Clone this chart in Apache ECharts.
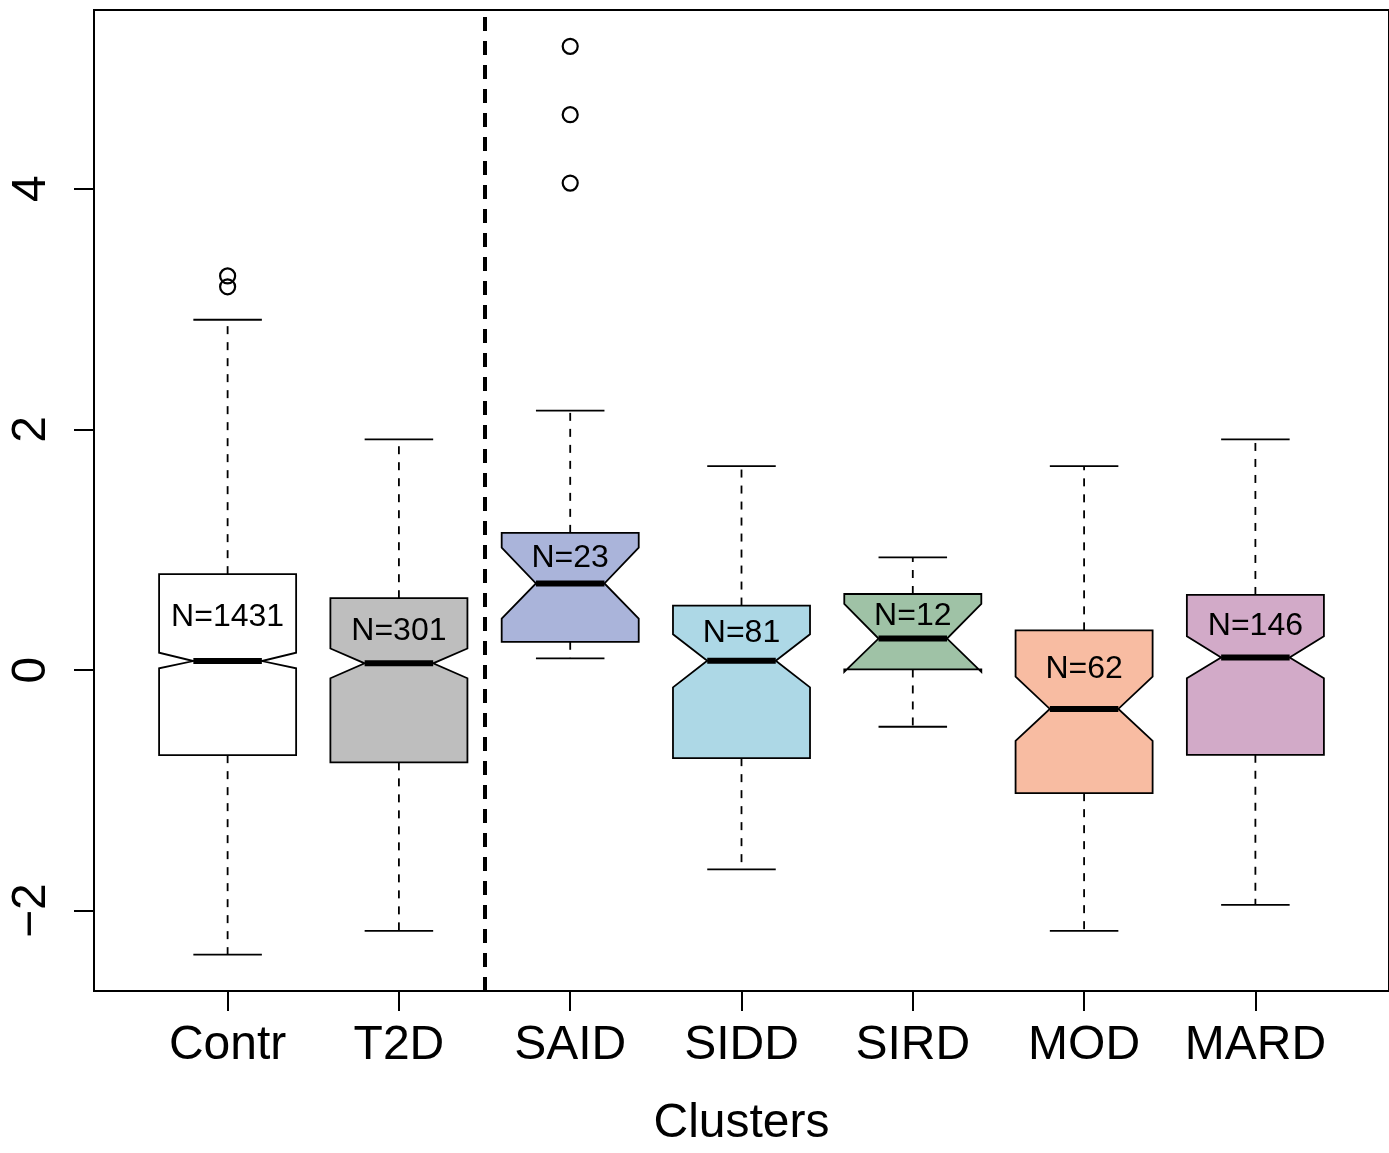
<!DOCTYPE html>
<html>
<head>
<meta charset="utf-8">
<script src="https://cdn.jsdelivr.net/npm/echarts@6/dist/echarts.min.js"></script>
<style>
  html, body { margin: 0; padding: 0; background: #fff; }
  #graph1 { width: 1389px; height: 1153px; }
</style>
</head>
<body>
<div id="graph1"></div>
<script>
var categories = ['Contr', 'T2D', 'SAID', 'SIDD', 'SIRD', 'MOD', 'MARD'];
var counts = [1431, 301, 23, 81, 12, 62, 146];
var lowerWhisker = [-2.365, -2.167, 0.097, -1.657, -0.471, -2.167, -1.952];
var q1 = [-0.707, -0.767, 0.235, -0.732, 0.005, -1.023, -0.704];
var confLow = [0.015, -0.068, 0.427, -0.144, -0.015, -0.589, -0.068];
var median = [0.075, 0.056, 0.720, 0.078, 0.262, -0.323, 0.105];
var confHigh = [0.144, 0.179, 1.017, 0.297, 0.550, -0.054, 0.281];
var q3 = [0.797, 0.597, 1.140, 0.536, 0.632, 0.330, 0.624];
var upperWhisker = [2.911, 1.917, 2.156, 1.695, 0.937, 1.695, 1.917];
var outliers = [[1, 3.275], [1, 3.185], [3, 5.183], [3, 4.615], [3, 4.047]];
var boxColors = ['#ffffff', '#bebebe', '#aab4da', '#add8e6', '#9fc2a6', '#f8bca2', '#d2aac8'];
var yTicks = [-2, 0, 2, 4];
var xTicks = [1, 2, 3, 4, 5, 6, 7];

var font = '"Liberation Sans", Arial, Helvetica, sans-serif';

var boxData = categories.map(function (c, i) {
    return [i + 1, lowerWhisker[i], q1[i], confLow[i], median[i], confHigh[i], q3[i], upperWhisker[i], counts[i]];
});

function renderBox(params, api) {
    var i = params.dataIndex;
    var x = api.value(0);
    var wid = 0.4;
    var pt = function (dx, v) { return api.coord([x + dx, v]); };
    var lo = api.value(1), b1 = api.value(2), cl = api.value(3), md = api.value(4),
        ch = api.value(5), b3 = api.value(6), hi = api.value(7);
    // notched outline, same vertex order as R's bxp()
    var xs = [-1, 1, 1, 0.5, 1, 1, -1, -1, -0.5, -1];
    var ys = [b1, b1, cl, md, ch, b3, b3, ch, md, cl];
    var poly = xs.map(function (f, k) { return pt(wid * f, ys[k]); });
    var dash = { stroke: '#000', lineWidth: 1.8, lineDash: [8, 8] };
    var solid = { stroke: '#000', lineWidth: 1.8 };
    var seg = function (a, b, st) {
        return { type: 'line', shape: { x1: a[0], y1: a[1], x2: b[0], y2: b[1] }, style: st };
    };
    var labelPos = pt(0, (md + b3) / 2);
    return {
        type: 'group',
        children: [
            seg(pt(0, b3), pt(0, hi), dash),
            seg(pt(0, b1), pt(0, lo), dash),
            seg(pt(-wid / 2, hi), pt(wid / 2, hi), solid),
            seg(pt(-wid / 2, lo), pt(wid / 2, lo), solid),
            {
                type: 'polygon',
                shape: { points: poly },
                style: { fill: boxColors[i], stroke: '#000', lineWidth: 1.8, lineJoin: 'miter' }
            },
            seg(pt(-wid / 2, md), pt(wid / 2, md), { stroke: '#000', lineWidth: 6 }),
            {
                type: 'text',
                style: {
                    text: 'N=' + api.value(8),
                    x: labelPos[0], y: labelPos[1],
                    align: 'center', verticalAlign: 'middle',
                    fontSize: 32, fontFamily: font, fill: '#000'
                }
            }
        ]
    };
}

var option1 = {
    backgroundColor: '#ffffff',
    animation: false,
    grid: {
        left: 94,
        top: 10,
        width: 1298,
        height: 990,
        show: true,
        borderColor: '#000',
        borderWidth: 2,
        backgroundColor: 'transparent'
    },
    xAxis: {
        type: 'value',
        min: 0.22,
        max: 7.78,
        name: 'Clusters',
        nameLocation: 'middle',
        nameGap: 109,
        nameTextStyle: { fontSize: 48, fontFamily: font, color: '#000' },
        axisLine: { show: true, onZero: false, lineStyle: { color: '#000', width: 2 } },
        axisTick: { show: true, length: 20, lineStyle: { color: '#000', width: 2 }, customValues: xTicks },
        axisLabel: {
            show: true,
            margin: 31,
            fontSize: 48,
            fontFamily: font,
            color: '#000',
            customValues: xTicks,
            formatter: function (v) { return categories[Math.round(v) - 1]; }
        },
        splitLine: { show: false }
    },
    yAxis: {
        type: 'value',
        min: -2.667,
        max: 5.485,
        axisLine: { show: true, onZero: false, lineStyle: { color: '#000', width: 2 } },
        axisTick: { show: true, length: 20, lineStyle: { color: '#000', width: 2 }, customValues: yTicks },
        axisLabel: {
            show: true,
            rotate: 90,
            margin: 38,
            fontSize: 48,
            fontFamily: font,
            color: '#000',
            customValues: yTicks,
            formatter: function (v) { return v < 0 ? '\u2212' + Math.abs(v) : String(v); }
        },
        splitLine: { show: false }
    },
    series: [{
        name: 'boxes',
        type: 'custom',
        renderItem: renderBox,
        data: boxData,
        encode: { x: 0, y: [1, 7] },
        markLine: {
            silent: true,
            symbol: ['none', 'none'],
            label: { show: false },
            lineStyle: { color: '#000', width: 4, type: [14, 10], opacity: 1 },
            data: [{ xAxis: 2.5 }]
        }
    }, {
        name: 'outliers',
        type: 'scatter',
        symbol: 'circle',
        symbolSize: 15,
        itemStyle: { color: 'rgba(0,0,0,0)', borderColor: '#000', borderWidth: 2.2, opacity: 1 },
        data: outliers
    }]
};

var myChart = echarts.init(document.getElementById('graph1'));
myChart.setOption(option1);
</script>
</body>
</html>
